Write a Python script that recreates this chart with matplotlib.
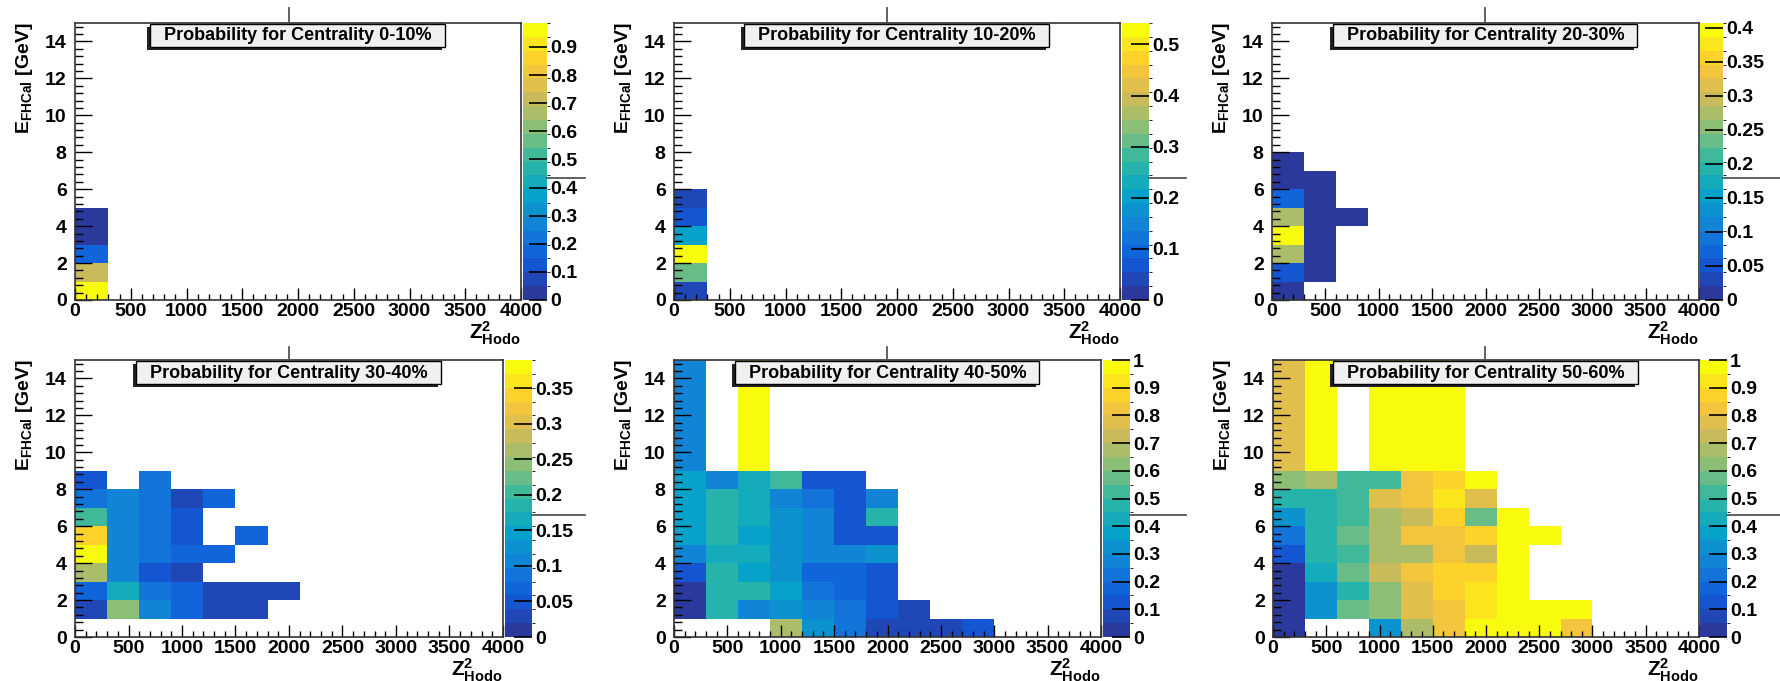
import numpy as np
import matplotlib
matplotlib.use("Agg")
import matplotlib.pyplot as plt
from matplotlib.colors import LinearSegmentedColormap, ListedColormap, BoundaryNorm
from matplotlib.lines import Line2D
from matplotlib.patches import Rectangle
from matplotlib.ticker import MultipleLocator, FormatStrFormatter

plt.rcParams['font.family'] = ['Liberation Sans', 'DejaVu Sans']
plt.rcParams['font.weight'] = 'bold'
plt.rcParams['axes.labelweight'] = 'bold'
plt.rcParams['mathtext.fontset'] = 'custom'
plt.rcParams['mathtext.rm'] = 'Liberation Sans:bold'
plt.rcParams['mathtext.it'] = 'Liberation Sans:bold'
plt.rcParams['mathtext.bf'] = 'Liberation Sans:bold'

_ = np.nan

# bin edges: Z^2 in steps of 300, E in 1 GeV steps with one wide top bin
x_edges = [0, 300, 600, 900, 1200, 1500, 1800, 2100, 2400, 2700, 3000]
y_edges = [0, 1, 2, 3, 4, 5, 6, 7, 8, 9, 15]

titles = ["Probability for Centrality 0-10%", "Probability for Centrality 10-20%",
          "Probability for Centrality 20-30%", "Probability for Centrality 30-40%",
          "Probability for Centrality 40-50%", "Probability for Centrality 50-60%"]
z_max = [0.985, 0.542, 0.407, 0.39, 1.0, 1.0]
z_step = [0.1, 0.1, 0.05, 0.05, 0.1, 0.1]

# rows go from E bin 0-1 (bottom) to 9-15 (top), columns are Z^2 bins
prob_0_10 = [
    [0.985, _, _, _, _, _, _, _, _, _],
    [0.72, _, _, _, _, _, _, _, _, _],
    [0.16, _, _, _, _, _, _, _, _, _],
    [0.03, _, _, _, _, _, _, _, _, _],
    [0.03, _, _, _, _, _, _, _, _, _],
    [_, _, _, _, _, _, _, _, _, _],
    [_, _, _, _, _, _, _, _, _, _],
    [_, _, _, _, _, _, _, _, _, _],
    [_, _, _, _, _, _, _, _, _, _],
    [_, _, _, _, _, _, _, _, _, _],
]
prob_10_20 = [
    [0.03, _, _, _, _, _, _, _, _, _],
    [0.30, _, _, _, _, _, _, _, _, _],
    [0.542, _, _, _, _, _, _, _, _, _],
    [0.21, _, _, _, _, _, _, _, _, _],
    [0.08, _, _, _, _, _, _, _, _, _],
    [0.03, _, _, _, _, _, _, _, _, _],
    [_, _, _, _, _, _, _, _, _, _],
    [_, _, _, _, _, _, _, _, _, _],
    [_, _, _, _, _, _, _, _, _, _],
    [_, _, _, _, _, _, _, _, _, _],
]
prob_20_30 = [
    [0.01, _, _, _, _, _, _, _, _, _],
    [0.06, 0.01, _, _, _, _, _, _, _, _],
    [0.27, 0.01, _, _, _, _, _, _, _, _],
    [0.407, 0.01, _, _, _, _, _, _, _, _],
    [0.27, 0.01, 0.01, _, _, _, _, _, _, _],
    [0.08, 0.01, _, _, _, _, _, _, _, _],
    [0.01, 0.01, _, _, _, _, _, _, _, _],
    [0.01, _, _, _, _, _, _, _, _, _],
    [_, _, _, _, _, _, _, _, _, _],
    [_, _, _, _, _, _, _, _, _, _],
]
prob_30_40 = [
    [_, _, _, _, _, _, _, _, _, _],
    [0.02, 0.24, 0.10, 0.06, 0.02, 0.02, _, _, _, _],
    [0.07, 0.17, 0.08, 0.06, 0.02, 0.02, 0.02, _, _, _],
    [0.26, 0.11, 0.05, 0.02, _, _, _, _, _, _],
    [0.39, 0.11, 0.08, 0.07, 0.06, _, _, _, _, _],
    [0.34, 0.11, 0.08, 0.05, _, 0.06, _, _, _, _],
    [0.20, 0.11, 0.08, 0.05, _, _, _, _, _, _],
    [0.09, 0.10, 0.08, 0.02, 0.06, _, _, _, _, _],
    [0.05, _, 0.08, _, _, _, _, _, _, _],
    [_, _, _, _, _, _, _, _, _, _],
]
prob_40_50 = [
    [_, _, _, 0.68, 0.35, 0.22, 0.05, 0.05, 0.05, 0.15],
    [0.03, 0.45, 0.30, 0.35, 0.25, 0.20, 0.10, 0.05, _, _],
    [0.03, 0.45, 0.45, 0.36, 0.22, 0.18, 0.10, _, _, _],
    [0.15, 0.45, 0.38, 0.33, 0.18, 0.18, 0.15, _, _, _],
    [0.30, 0.40, 0.42, 0.32, 0.30, 0.30, 0.32, _, _, _],
    [0.38, 0.45, 0.38, 0.32, 0.25, 0.15, 0.15, _, _, _],
    [0.38, 0.45, 0.42, 0.35, 0.28, 0.15, 0.45, _, _, _],
    [0.38, 0.45, 0.42, 0.30, 0.20, 0.15, 0.28, _, _, _],
    [0.36, 0.30, 0.40, 0.50, 0.15, 0.15, _, _, _, _],
    [0.28, _, 1.0, _, _, _, _, _, _, _],
]
prob_50_60 = [
    [0.03, _, _, 0.35, 0.65, 0.82, 1.0, 1.0, 1.0, 0.82],
    [0.03, 0.33, 0.60, 0.62, 0.78, 0.85, 0.95, 1.0, 1.0, 1.0],
    [0.03, 0.35, 0.48, 0.62, 0.78, 0.88, 0.95, 1.0, _, _],
    [0.03, 0.42, 0.60, 0.72, 0.80, 0.88, 0.88, 1.0, _, _],
    [0.12, 0.45, 0.52, 0.65, 0.65, 0.82, 0.72, 1.0, _, _],
    [0.20, 0.45, 0.60, 0.65, 0.80, 0.85, 0.88, 1.0, 1.0, _],
    [0.33, 0.45, 0.52, 0.65, 0.72, 0.88, 0.60, 1.0, _, _],
    [0.48, 0.48, 0.52, 0.75, 0.82, 0.95, 0.78, _, _, _],
    [0.62, 0.68, 0.50, 0.50, 0.85, 0.88, 0.98, _, _, _],
    [0.75, 1.0, _, 1.0, 1.0, 1.0, _, _, _, _],
]
panels = [prob_0_10, prob_10_20, prob_20_30, prob_30_40, prob_40_50, prob_50_60]

# kBird-like palette (bottom a bit bluer to match the screenshot), 20 contour levels
bird_r = [0.1700, 0.0592, 0.0780, 0.0232, 0.1802, 0.5301, 0.8186, 0.9956, 0.9764]
bird_g = [0.2200, 0.3599, 0.5041, 0.6419, 0.7178, 0.7492, 0.7328, 0.7862, 0.9832]
bird_b = [0.6100, 0.8684, 0.8385, 0.7914, 0.6425, 0.4662, 0.3499, 0.1968, 0.0539]
bird = LinearSegmentedColormap.from_list(
    "bird", [(i / 8, (bird_r[i], bird_g[i], bird_b[i])) for i in range(9)])
n_cont = 20
cmap = ListedColormap(bird(np.linspace(0, 1, n_cont)))

W, H = 1780, 681
fig = plt.figure(figsize=(W / 100, H / 100), dpi=100)


def fr(x0, y0, x1, y1):
    return [x0 / W, 1 - y1 / H, (x1 - x0) / W, (y1 - y0) / H]


# pixel boxes (left, top, right, bottom)
axes_px = [(75, 23, 521, 300), (674, 23, 1120, 300), (1272, 23, 1699, 300),
           (75, 360, 503, 637), (674, 360, 1101, 637), (1273, 360, 1699, 637)]
cbar_px = [(523, 547), (1122, 1149), (1700, 1723), (505, 532), (1103, 1130), (1700, 1727)]

titles_txt = []
for i in range(6):
    x0, y0, x1, y1 = axes_px[i]
    ax = fig.add_axes(fr(x0, y0, x1, y1))
    z = np.ma.masked_invalid(np.array(panels[i], dtype=float))
    norm = BoundaryNorm(np.linspace(0, z_max[i], n_cont + 1), n_cont)
    mesh = ax.pcolormesh(x_edges, y_edges, z, cmap=cmap, norm=norm)
    ax.set_xlim(0, 4000)
    ax.set_ylim(0, 15)
    ax.xaxis.set_major_locator(MultipleLocator(500))
    ax.xaxis.set_minor_locator(MultipleLocator(100))
    ax.yaxis.set_major_locator(MultipleLocator(2))
    ax.yaxis.set_minor_locator(MultipleLocator(0.4))
    ax.tick_params(which='both', direction='in', top=False, right=False,
                   labelsize=14, width=1)
    ax.tick_params(axis='x', which='major', length=9, pad=2)
    ax.tick_params(axis='x', which='minor', length=4.5)
    ax.tick_params(axis='y', which='major', length=12, pad=6)
    ax.tick_params(axis='y', which='minor', length=6)
    for s in ax.spines.values():
        s.set_linewidth(1.2)
        s.set_color('#333333')
    ax.set_ylabel(r'E$_{\rm FHCal}$ [GeV]', fontsize=14, fontweight='bold', loc='top')
    ax.yaxis.set_label_coords(-40 / (x1 - x0), 1.0)
    ax.set_xlabel(r'Z$^{2}_{\rm Hodo}$', fontsize=15, fontweight='bold', loc='right')
    ax.xaxis.set_label_coords(1.0, -0.07)

    c0, c1 = cbar_px[i]
    cax = fig.add_axes(fr(c0, y0, c1, y1))
    cb = fig.colorbar(mesh, cax=cax,
                      ticks=np.arange(0, z_max[i] + 1e-9, z_step[i]))
    cb.outline.set_visible(False)
    cax.yaxis.set_major_formatter(FormatStrFormatter('%g'))
    cax.tick_params(direction='in', length=13, width=1.2, color='black',
                    labelsize=14, pad=2)

    t = fig.text((x0 + x1) / 2 / W, 1 - (y0 + 13) / H, titles[i], ha='center',
                 va='center', fontsize=13, zorder=10)
    titles_txt.append((t, y0))

fig.canvas.draw()
r = fig.canvas.get_renderer()
for t, y0 in titles_txt:
    bb = t.get_window_extent(r)
    bx0, bx1 = bb.x0 - 14, bb.x1 + 13
    top = H - (y0 + 1)
    bot = H - (y0 + 24)
    fig.add_artist(Rectangle(((bx0 - 3) / W, (bot - 3) / H), (bx1 - bx0) / W, (top - bot) / H,
                             transform=fig.transFigure, facecolor='#222222',
                             edgecolor='none', zorder=8))
    fig.add_artist(Rectangle((bx0 / W, bot / H), (bx1 - bx0) / W, (top - bot) / H,
                             transform=fig.transFigure, facecolor='#f0f0f0',
                             edgecolor='black', linewidth=1, zorder=9))

# leftover pad border strokes of the original canvas
decor = [((289, 8), (289, 23)), ((887, 8), (887, 23)), ((1485, 8), (1485, 23)),
         ((289, 347), (289, 360)), ((887, 347), (887, 360)), ((1485, 347), (1485, 360)),
         ((547, 178), (585, 178)), ((1149, 178), (1186, 178)), ((1723, 178), (1780, 178)),
         ((532, 515), (585, 515)), ((1130, 515), (1186, 515)), ((1727, 515), (1780, 515))]
for (xa, ya), (xb, yb) in decor:
    fig.add_artist(Line2D([xa / W, xb / W], [1 - ya / H, 1 - yb / H],
                          transform=fig.transFigure, color='#555555', lw=1.3))

fig.savefig("out.png", dpi=100)
